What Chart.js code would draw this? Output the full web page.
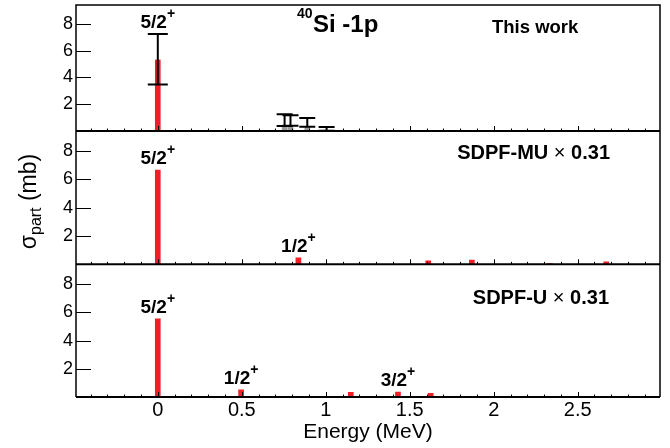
<!DOCTYPE html>
<html>
<head>
<meta charset="utf-8">
<script src="https://cdn.jsdelivr.net/npm/chart.js@4.4.1/dist/chart.umd.min.js"></script>
<style>
  html, body { margin: 0; padding: 0; background: #ffffff; }
  #wrap { width: 670px; height: 448px; }
</style>
</head>
<body>
<div id="wrap"><canvas id="xsec" width="670" height="448"></canvas></div>
<script>
// Axis ranges and tick labels
const energyMin = -0.487;
const energyMax = 2.99;
const sigmaMax = 9.4;
const sigmaTicks = [2, 4, 6, 8];
const energyTicks = [0, 0.5, 1, 1.5, 2, 2.5];
const energyTickLabels = ['0', '0.5', '1', '1.5', '2', '2.5'];

// Measured partial cross sections (mb), 40Si(-1p)
const expEnergy = [0];
const expSigma = [5.3];
const expLow = [3.47];
const expHigh = [7.24];
// Weak, unresolved strength above 0.7 MeV
const weakEnergy = [0.755, 0.79, 0.89, 1.005];
const weakSigma = [0.37, 0.37, 0.32, 0.03];
const weakLow = [0.37, 0.4, 0.32, 0.02];
const weakHigh = [1.25, 1.18, 0.97, 0.3];

// Shell-model predictions, scaled by 0.31
const muEnergy = [0, 0.837, 1.61, 1.87, 2.335, 2.67];
const muSigma = [6.64, 0.46, 0.25, 0.3, 0.05, 0.18];
const uEnergy = [0, 0.496, 0.56, 1.149, 1.32, 1.43, 1.515, 1.625];
const uSigma = [5.53, 0.5, 0.03, 0.33, 0.03, 0.35, 0.03, 0.26];

// Spin assignments written over the states
const expSpinEnergy = [0];
const expSpinText = ['5/2'];
const muSpinEnergy = [0, 0.837];
const muSpinText = ['5/2', '1/2'];
const uSpinEnergy = [0, 0.496, 1.43];
const uSpinText = ['5/2', '1/2', '3/2'];

const FONT = '"Liberation Sans", Arial, Helvetica, sans-serif';
const RED = '#ee2026';
const GREY = '#9a9a9a';

const points = (xs, ys) => xs.map((x, i) => ({ x: x, y: ys[i] }));

function sigmaScale(weight) {
  return {
    type: 'linear',
    position: 'left',
    stack: 'panels',
    stackWeight: weight,
    min: 0,
    max: sigmaMax,
    grid: { display: false, drawTicks: false },
    border: { display: false },
    afterBuildTicks: (s) => { s.ticks = sigmaTicks.map((v) => ({ value: v })); },
    afterFit: (s) => { s.width = 76; s.paddingTop = 0; s.paddingBottom = 0; },
    ticks: {
      autoSkip: false,
      padding: 3,
      color: '#000',
      font: { family: FONT, size: 18 },
      callback: (v) => String(v)
    }
  };
}

function barSet(label, xs, ys, axis, color) {
  return {
    label: label,
    data: points(xs, ys),
    yAxisID: axis,
    backgroundColor: color,
    borderWidth: 0,
    barThickness: 5,
    grouped: false
  };
}

// Frame, inward ticks, error bars
const framePlugin = {
  id: 'panelFrame',
  afterDatasetsDraw(chart) {
    const { ctx, chartArea: a, scales } = chart;
    const xs = scales.x;
    ctx.save();
    ctx.strokeStyle = '#000';

    // error bars of the measurement
    const yt = scales.yTop;
    const errE = expEnergy.concat(weakEnergy);
    const errLo = expLow.concat(weakLow);
    const errHi = expHigh.concat(weakHigh);
    ctx.lineWidth = 2;
    ctx.beginPath();
    errE.forEach((e, i) => {
      const px = xs.getPixelForValue(e);
      const lo = yt.getPixelForValue(errLo[i]);
      const hi = yt.getPixelForValue(errHi[i]);
      const cap = i === 0 ? 10 : 8;
      ctx.moveTo(px, lo); ctx.lineTo(px, hi);
      ctx.moveTo(px - cap, lo); ctx.lineTo(px + cap, lo);
      ctx.moveTo(px - cap, hi); ctx.lineTo(px + cap, hi);
    });
    ctx.stroke();

    for (const id of ['yTop', 'yMid', 'yBot']) {
      const ys = scales[id];
      const base = ys.getPixelForValue(0);
      ctx.lineWidth = 1;
      ctx.beginPath();
      for (const v of sigmaTicks) {
        const py = Math.round(ys.getPixelForValue(v)) + 0.5;
        ctx.moveTo(a.left, py); ctx.lineTo(a.left + 15, py);
      }
      for (let k = Math.ceil(energyMin * 10); k <= Math.floor(energyMax * 10); k++) {
        const px = Math.round(xs.getPixelForValue(k / 10)) + 0.5;
        const len = k % 5 === 0 ? 5 : 2.5;
        ctx.moveTo(px, base); ctx.lineTo(px, base - len);
      }
      ctx.stroke();
      ctx.lineWidth = 2;
      ctx.beginPath();
      ctx.moveTo(a.left, base); ctx.lineTo(a.right, base);
      ctx.stroke();
    }

    ctx.lineWidth = 1.5;
    ctx.beginPath();
    ctx.moveTo(a.left, a.bottom); ctx.lineTo(a.left, a.top);
    ctx.lineTo(a.right, a.top); ctx.lineTo(a.right, a.bottom);
    ctx.stroke();
    ctx.restore();
  },
  afterDraw(chart) {
    const { ctx, scales } = chart;
    const xs = scales.x;
    ctx.save();
    ctx.fillStyle = '#000';
    ctx.textBaseline = 'alphabetic';

    const spin = (id, energies, texts, tops) => {
      const ys = scales[id];
      energies.forEach((e, i) => {
        const px = xs.getPixelForValue(e);
        const base = ys.getPixelForValue(tops(e)) - 6;
        ctx.font = 'bold 19px ' + FONT;
        const w1 = ctx.measureText(texts[i]).width;
        ctx.font = 'bold 14px ' + FONT;
        const w2 = ctx.measureText('+').width;
        const left = px - (w1 + w2) / 2;
        ctx.font = 'bold 19px ' + FONT;
        ctx.textAlign = 'left';
        ctx.fillText(texts[i], left, base);
        ctx.font = 'bold 14px ' + FONT;
        ctx.fillText('+', left + w1, base - 10);
      });
    };
    const topAt = (xsArr, ysArr, extra) => (e) => {
      let m = 0;
      xsArr.forEach((x, i) => { if (Math.abs(x - e) < 1e-6) m = Math.max(m, ysArr[i]); });
      if (extra) extra.e.forEach((x, i) => { if (Math.abs(x - e) < 1e-6) m = Math.max(m, extra.v[i]); });
      return m;
    };
    spin('yTop', expSpinEnergy, expSpinText, topAt(expEnergy, expSigma, { e: expEnergy, v: expHigh }));
    spin('yMid', muSpinEnergy, muSpinText, topAt(muEnergy, muSigma));
    spin('yBot', uSpinEnergy, uSpinText, topAt(uEnergy, uSigma));

    // panel captions
    ctx.textAlign = 'left';
    ctx.font = 'bold 14px ' + FONT;
    ctx.fillText('40', 297, 18);
    ctx.font = 'bold 24px ' + FONT;
    ctx.fillText('Si -1p', 313, 32);
    ctx.font = 'bold 18.5px ' + FONT;
    ctx.fillText('This work', 492, 33);

    const scaled = (name, right, base) => {
      ctx.font = 'bold 20px ' + FONT;
      const tail = ' 0.31';
      const wTail = ctx.measureText(tail).width;
      const wName = ctx.measureText(name + ' ').width;
      ctx.font = '20px ' + FONT;
      const wTimes = ctx.measureText('\u00d7').width;
      let x = right - wTail - wTimes - wName;
      ctx.font = 'bold 20px ' + FONT;
      ctx.fillText(name + ' ', x, base);
      x += wName;
      ctx.font = '20px ' + FONT;
      ctx.fillText('\u00d7', x, base);
      x += wTimes;
      ctx.font = 'bold 20px ' + FONT;
      ctx.fillText(tail, x, base);
    };
    scaled('SDPF-MU', 610, 159);
    scaled('SDPF-U', 609, 304);

    // vertical axis title with subscript
    ctx.translate(36, 201.5);
    ctx.rotate(-Math.PI / 2);
    ctx.font = '23px ' + FONT;
    const wSig = ctx.measureText('\u03c3').width;
    const wMb = ctx.measureText(' (mb)').width;
    ctx.font = '16px ' + FONT;
    const wSub = ctx.measureText('part').width;
    let x0 = -(wSig + wSub + wMb) / 2;
    ctx.font = '23px ' + FONT;
    ctx.fillText('\u03c3', x0, 0);
    ctx.font = '16px ' + FONT;
    ctx.fillText('part', x0 + wSig, 5);
    ctx.font = '23px ' + FONT;
    ctx.fillText(' (mb)', x0 + wSig + wSub, 0);
    ctx.restore();
  }
};

new Chart(document.getElementById('xsec'), {
  type: 'bar',
  data: {
    datasets: [
      barSet('This work', expEnergy, expSigma, 'yTop', RED),
      barSet('This work (unresolved)', weakEnergy, weakSigma, 'yTop', GREY),
      barSet('SDPF-MU x 0.31', muEnergy, muSigma, 'yMid', RED),
      barSet('SDPF-U x 0.31', uEnergy, uSigma, 'yBot', RED)
    ]
  },
  options: {
    responsive: false,
    animation: false,
    devicePixelRatio: 1,
    layout: { padding: { top: 5, right: 10, left: 0, bottom: 0 } },
    plugins: { legend: { display: false }, tooltip: { enabled: false } },
    scales: {
      x: {
        type: 'linear',
        position: 'bottom',
        min: energyMin,
        max: energyMax,
        offset: false,
        grid: { display: false, drawTicks: false },
        border: { display: false },
        afterBuildTicks: (s) => { s.ticks = energyTicks.map((v) => ({ value: v })); },
        afterFit: (s) => { s.height = 51; s.paddingLeft = 0; s.paddingRight = 0; },
        ticks: {
          autoSkip: false,
          maxRotation: 0,
          padding: 1,
          color: '#000',
          font: { family: FONT, size: 20 },
          callback: (v) => {
            const i = energyTicks.indexOf(v);
            return i >= 0 ? energyTickLabels[i] : '';
          }
        },
        title: {
          display: true,
          text: 'Energy (MeV)',
          color: '#000',
          font: { family: FONT, size: 21 },
          padding: { top: 0, bottom: 3 }
        }
      },
      yBot: sigmaScale(132.7),
      yMid: sigmaScale(133.3),
      yTop: sigmaScale(126)
    }
  },
  plugins: [framePlugin]
});
</script>
</body>
</html>
